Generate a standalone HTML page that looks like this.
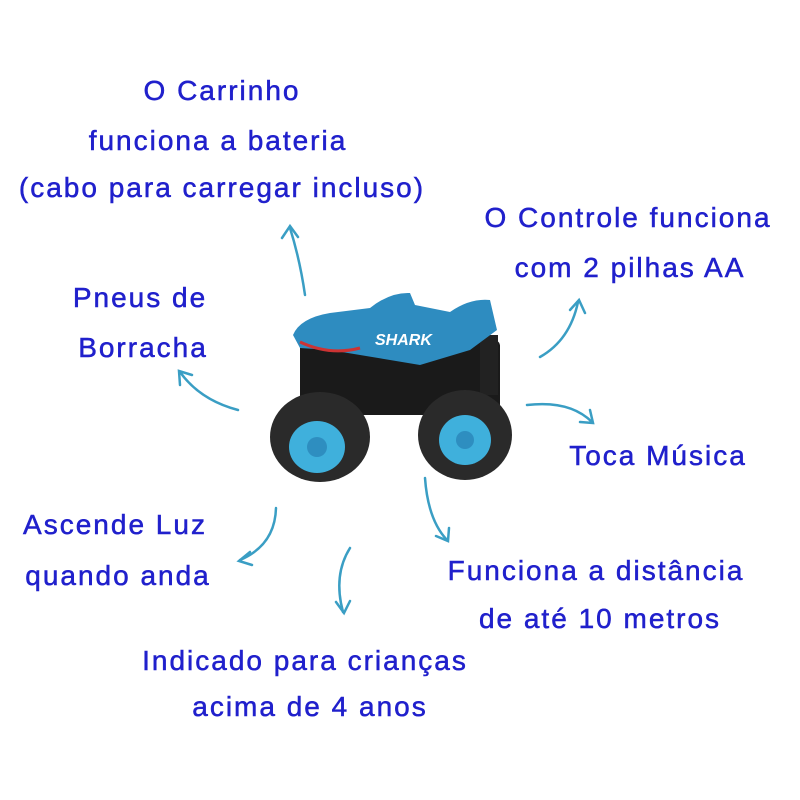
<!DOCTYPE html>
<html><head><meta charset="utf-8"><style>
body{margin:0;width:800px;height:800px;background:#fff;overflow:hidden;position:relative}
.t{position:absolute;transform:translateX(-50%);white-space:nowrap;font-family:"Liberation Sans",sans-serif;font-size:28px;color:#2020cc;line-height:1;letter-spacing:2px;-webkit-text-stroke:0.5px #2020cc}
svg{position:absolute;left:0;top:0}
</style></head><body>
<svg width="800" height="800" viewBox="0 0 800 800">
<g fill="none" stroke="#3a9ec4" stroke-width="2.5" stroke-linecap="round">
<path d="M305 295 Q300 260 290 228"/><path d="M282 238 L290 226 L298 237"/>
<path d="M540 357 Q570 340 578 302"/><path d="M570 310 L579 300 L585 313"/>
<path d="M238 410 Q200 400 180 372"/><path d="M180 385 L179 371 L192 375"/>
<path d="M527 405 Q570 400 592 422"/><path d="M580 422 L593 423 L590 410"/>
<path d="M276 508 Q275 545 240 560"/><path d="M250 552 L239 561 L252 565"/>
<path d="M350 548 Q333 575 343 612"/><path d="M336 602 L344 613 L350 601"/>
<path d="M425 478 Q428 520 447 540"/><path d="M436 536 L448 541 L449 528"/>
</g>
<rect x="300" y="340" width="200" height="75" rx="6" fill="#1a1a1a"/>
<rect x="480" y="335" width="18" height="60" fill="#222"/>
<path d="M293 335 Q300 318 330 313 L370 308 Q390 292 410 293 L415 305 L450 312 Q470 298 490 300 L497 330 L470 350 L420 365 L360 355 L330 350 L300 348 Z" fill="#2e8cc0"/>
<path d="M300 342 Q330 356 360 348" fill="none" stroke="#c33" stroke-width="3"/>
<text x="375" y="345" font-family="Liberation Sans,sans-serif" font-size="16" font-weight="bold" font-style="italic" fill="#fff">SHARK</text>
<ellipse cx="320" cy="437" rx="50" ry="45" fill="#2a2a2a"/>
<ellipse cx="317" cy="447" rx="28" ry="26" fill="#3fb0dc"/>
<circle cx="317" cy="447" r="10" fill="#2e8ec0"/>
<ellipse cx="465" cy="435" rx="47" ry="45" fill="#2a2a2a"/>
<ellipse cx="465" cy="440" rx="26" ry="25" fill="#3fb0dc"/>
<circle cx="465" cy="440" r="9" fill="#2e8ec0"/>
</svg>
<div class="t" style="left:222px;top:77px">O Carrinho</div>
<div class="t" style="left:218px;top:127px">funciona a bateria</div>
<div class="t" style="left:222px;top:174px">(cabo para carregar incluso)</div>
<div class="t" style="left:628px;top:204px">O Controle funciona</div>
<div class="t" style="left:630px;top:254px">com 2 pilhas AA</div>
<div class="t" style="left:140px;top:284px">Pneus de</div>
<div class="t" style="left:143px;top:334px">Borracha</div>
<div class="t" style="left:658px;top:442px">Toca Música</div>
<div class="t" style="left:115px;top:511px">Ascende Luz</div>
<div class="t" style="left:118px;top:562px">quando anda</div>
<div class="t" style="left:596px;top:557px">Funciona a distância</div>
<div class="t" style="left:600px;top:605px">de até 10 metros</div>
<div class="t" style="left:305px;top:647px">Indicado para crianças</div>
<div class="t" style="left:310px;top:693px">acima de 4 anos</div>
</body></html>
